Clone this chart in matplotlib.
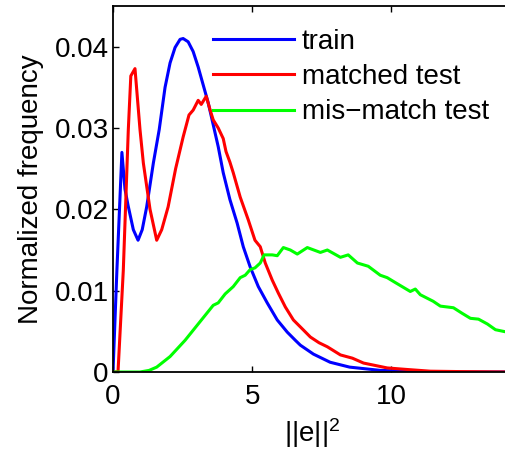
import matplotlib
matplotlib.use("Agg")
import matplotlib.pyplot as plt

plt.rcParams['font.family'] = ['Liberation Sans', 'DejaVu Sans']
plt.rcParams['mathtext.fontset'] = 'custom'
plt.rcParams['mathtext.rm'] = 'Liberation Sans'
plt.rcParams['mathtext.it'] = 'Liberation Sans'

train_x = [0.0, 0.14, 0.32, 0.43, 0.54, 0.73, 0.9, 1.05, 1.21, 1.45, 1.66, 1.87, 2.05, 2.23, 2.41, 2.52,
           2.7, 2.88, 3.06, 3.24, 3.42, 3.6, 3.78, 3.96, 4.2, 4.46, 4.68, 4.93, 5.22, 5.54, 5.9, 6.26,
           6.55, 6.73, 7.2, 7.8, 8.5, 9.6, 11.0, 12.5, 14.3]
train_y = [0.0, 0.0125, 0.027, 0.0225, 0.0205, 0.0175, 0.0162, 0.0175, 0.0203, 0.0257, 0.0298, 0.035, 0.038, 0.0399, 0.0409, 0.041,
           0.0406, 0.0394, 0.0375, 0.0353, 0.0331, 0.0304, 0.0277, 0.0245, 0.0212, 0.0183, 0.0154, 0.0129, 0.0105, 0.0085, 0.0064, 0.0049,
           0.0039, 0.0033, 0.0022, 0.0012, 0.0006, 0.0002, 0.00005, 0.0, 0.0]

matched_x = [0.0, 0.18, 0.37, 0.55, 0.64, 0.79, 0.97, 1.09, 1.33, 1.57, 1.75, 1.98, 2.25, 2.52, 2.73, 2.88,
             3.06, 3.17, 3.35, 3.49, 3.6, 3.78, 3.96, 4.06, 4.2, 4.32, 4.57, 4.86, 5.1, 5.29, 5.47, 5.72,
             5.94, 6.19, 6.48, 6.83, 7.09, 7.4, 7.7, 8.17, 8.6, 9.0, 9.85, 10.6, 11.4, 12.5, 14.3]
matched_y = [0.0, 0.0, 0.0125, 0.0298, 0.0364, 0.0373, 0.0298, 0.0257, 0.02, 0.0162, 0.0175, 0.0203, 0.025, 0.0289, 0.0316, 0.0322,
             0.0334, 0.0329, 0.0339, 0.0322, 0.031, 0.03, 0.0287, 0.0271, 0.0258, 0.0245, 0.0215, 0.0187, 0.0162, 0.0154, 0.0134, 0.0113,
             0.0097, 0.008, 0.0064, 0.0052, 0.0043, 0.0036, 0.0031, 0.0021, 0.0017, 0.0011, 0.0005, 0.0003, 0.0001, 0.00005, 0.0]

mismatch_x = [0.0, 0.97, 1.3, 1.57, 2.05, 2.59, 3.13, 3.6, 3.78, 4.03, 4.32, 4.57, 4.75, 4.93, 5.1, 5.29,
              5.43, 5.72, 5.9, 6.12, 6.37, 6.62, 6.98, 7.45, 7.7, 8.17, 8.45, 8.78, 9.17, 9.6, 9.85,
              10.14, 10.68, 10.86, 11.04, 11.5, 11.76, 12.23, 12.55, 12.84, 13.13, 13.45, 13.74, 14.3]
mismatch_y = [0.0, 0.0, 0.0002, 0.0006, 0.0019, 0.0039, 0.0062, 0.0082, 0.0085, 0.0096, 0.0105, 0.0116, 0.0119, 0.0126, 0.0128, 0.0134,
              0.0144, 0.0144, 0.0143, 0.0153, 0.015, 0.0145, 0.0153, 0.0147, 0.015, 0.0141, 0.0144, 0.0134, 0.013, 0.0119, 0.0116,
              0.011, 0.0099, 0.0102, 0.0095, 0.0087, 0.0081, 0.0079, 0.0072, 0.0066, 0.0065, 0.0059, 0.0052, 0.0048]

labels = ["train", "matched test", "mis\u2212match test"]
colors = ["#0000ff", "#ff0000", "#00ff00"]
xticks = [0, 5, 10]
yticks = [0, 0.01, 0.02, 0.03, 0.04]
ytick_labels = ["0", "0.01", "0.02", "0.03", "0.04"]

fig = plt.figure(figsize=(5.06, 4.54), dpi=100)
ax = fig.add_axes([113/506, 82/454, (506-113)/506 + 0.01, (372-6)/454])

lw = 2.2
ax.plot(train_x, train_y, color=colors[0], lw=lw, label=labels[0])
ax.plot(matched_x, matched_y, color=colors[1], lw=lw, label=labels[1])
ax.plot(mismatch_x, mismatch_y, color=colors[2], lw=lw, label=labels[2])

ax.set_xlim(0, 14.3)
ax.set_ylim(0, 0.045)
ax.set_xticks(xticks)
ax.set_yticks(yticks)
ax.set_yticklabels(ytick_labels)
ax.tick_params(direction='in', length=4, width=1, labelsize=20, top=True, right=False)
ax.tick_params(axis='x', pad=9)
ax.tick_params(axis='y', pad=3)
for s in ax.spines.values():
    s.set_linewidth(1.3)

ax.set_xlabel("||e||$^2$", fontsize=20, labelpad=4)
ax.set_ylabel("Normalized frequency", fontsize=20, labelpad=8)

ax.legend(loc='upper left', bbox_to_anchor=(213/506, 1 - 29/454), bbox_transform=fig.transFigure,
          frameon=False, fontsize=20, handlelength=2.9, handletextpad=0.3, labelspacing=0.33,
          borderaxespad=0, borderpad=0)

fig.savefig("out.png", dpi=100)
